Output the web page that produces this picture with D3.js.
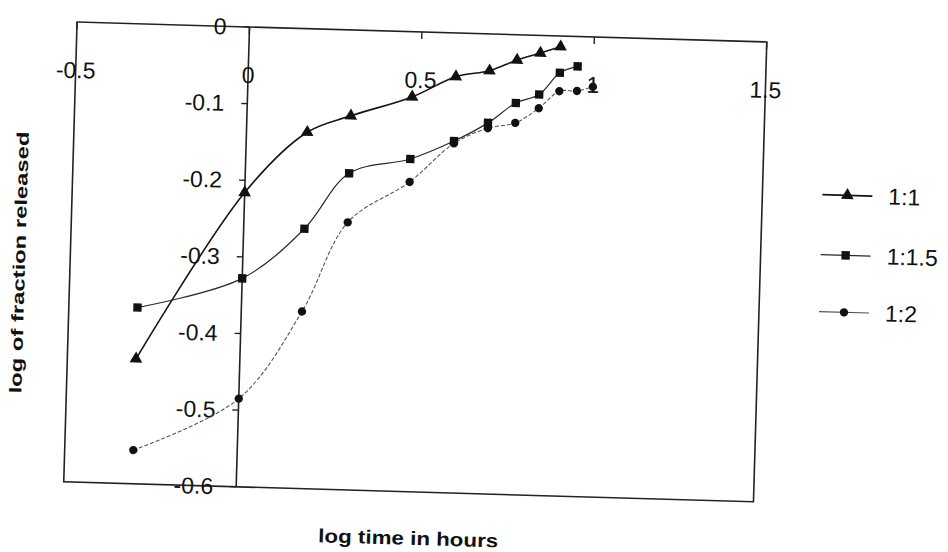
<!DOCTYPE html>
<html><head><meta charset="utf-8">
<script src="https://cdn.jsdelivr.net/npm/d3@7"></script>
<style>body{margin:0;background:#fff} svg{display:block;font-family:"Liberation Sans",Arial,sans-serif}</style>
</head><body><svg id="chart" width="948" height="552"></svg>
<script>
// log time in hours (x values)
const logTime = [-0.301, 0, 0.176, 0.301, 0.477, 0.602, 0.699, 0.778, 0.845, 0.903, 0.954, 1.0];
// log of fraction released, per ratio
const ratio1_1   = [-0.437, -0.216, -0.135, -0.112, -0.085, -0.057, -0.048, -0.033, -0.023, -0.014];
const ratio1_1_5 = [-0.370, -0.328, -0.261, -0.187, -0.166, -0.141, -0.116, -0.089, -0.077, -0.048, -0.039];
const ratio1_2   = [-0.556, -0.485, -0.369, -0.251, -0.196, -0.144, -0.123, -0.115, -0.095, -0.072, -0.071, -0.065];
const seriesNames = ["1:1", "1:1.5", "1:2"];
const xTickValues = [-0.5, 0, 0.5, 1, 1.5];
const xTickLabels = ["-0.5", "0", "0.5", "1", "1.5"];
const yTickValues = [0, -0.1, -0.2, -0.3, -0.4, -0.5, -0.6];
const yTickLabels = ["0", "-0.1", "-0.2", "-0.3", "-0.4", "-0.5", "-0.6"];
const xTitle = "log time in hours";
const yTitle = "log of fraction released";

const seriesValues = [ratio1_1, ratio1_1_5, ratio1_2];
const styles = [
  {shape: d3.symbolTriangle, size: 70, stroke: "#151515", width: 1.6, dash: null},
  {shape: d3.symbolSquare, size: 70, stroke: "#2a2a2a", width: 1.2, dash: null},
  {shape: d3.symbolCircle, size: 55, stroke: "#555", width: 1.1, dash: "4,2"}
];

const svg = d3.select("#chart");
const L = 77, R = 767, T = 27, B = 487;
const x = d3.scaleLinear().domain([-0.5, 1.5]).range([L, R]);
const y = d3.scaleLinear().domain([-0.6, 0]).range([B, T]);

const g = svg.append("g").attr("transform", `rotate(1.66, ${x(0)}, ${y(0)})`);

// plot box
g.append("rect").attr("x", L).attr("y", T).attr("width", R - L).attr("height", B - T)
  .attr("fill", "none").attr("stroke", "#222").attr("stroke-width", 1.6);

// y axis (at x = 0)
g.append("line").attr("x1", x(0)).attr("x2", x(0)).attr("y1", y(0)).attr("y2", y(-0.6))
  .attr("stroke", "#222").attr("stroke-width", 1.6);

// x ticks (down from the top axis) and labels
g.selectAll(".xt").data(xTickValues).join("line").attr("class", "xt")
  .attr("x1", d => x(d)).attr("x2", d => x(d)).attr("y1", y(0)).attr("y2", y(0) + 7)
  .attr("stroke", "#222").attr("stroke-width", 1.4);
g.selectAll(".xl").data(xTickValues).join("text").attr("class", "xl")
  .attr("x", d => x(d)).attr("y", y(0) + 56)
  .attr("text-anchor", "middle").attr("font-size", 23).attr("fill", "#111")
  .text((d, i) => xTickLabels[i]);

// y ticks and labels
g.selectAll(".yt").data(yTickValues).join("line").attr("class", "yt")
  .attr("x1", x(0) - 6).attr("x2", x(0)).attr("y1", d => y(d)).attr("y2", d => y(d))
  .attr("stroke", "#222").attr("stroke-width", 1.4);
g.selectAll(".yl").data(yTickValues).join("text").attr("class", "yl")
  .attr("x", x(0) - 23).attr("y", d => y(d) + 8)
  .attr("text-anchor", "end").attr("font-size", 23).attr("fill", "#111")
  .text((d, i) => yTickLabels[i]);

// series
const line = d3.line().x(d => x(d[0])).y(d => y(d[1])).curve(d3.curveCatmullRom.alpha(0.5));
seriesValues.forEach((vals, si) => {
  const pts = vals.map((v, i) => [logTime[i], v]);
  const st = styles[si];
  g.append("path").datum(pts).attr("d", line).attr("fill", "none")
    .attr("stroke", st.stroke).attr("stroke-width", st.width)
    .attr("stroke-dasharray", st.dash);
  g.selectAll(".m" + si).data(pts).join("path").attr("class", "m" + si)
    .attr("transform", d => `translate(${x(d[0])},${y(d[1])})`)
    .attr("d", d3.symbol().type(st.shape).size(st.size)).attr("fill", "#111");
});

// legend
const legY = [178, 238, 295];
seriesNames.forEach((name, i) => {
  const st = styles[i];
  g.append("line").attr("x1", 827).attr("x2", 877).attr("y1", legY[i]).attr("y2", legY[i])
    .attr("stroke", st.stroke).attr("stroke-width", st.width);
  g.append("path").attr("transform", `translate(852,${legY[i]})`)
    .attr("d", d3.symbol().type(st.shape).size(st.size)).attr("fill", "#111");
  g.append("text").attr("x", 893).attr("y", legY[i] + 8).attr("font-size", 23)
    .attr("fill", "#111").text(name);
});

// axis titles
g.append("text").attr("x", 423).attr("y", 540).attr("text-anchor", "middle")
  .attr("font-size", 19).attr("font-weight", "bold").attr("fill", "#111")
  .attr("textLength", 180).attr("lengthAdjust", "spacingAndGlyphs").text(xTitle);
g.append("text").attr("transform", "translate(32,269) rotate(-90)")
  .attr("text-anchor", "middle").attr("font-size", 17).attr("font-weight", "bold").attr("fill", "#111")
  .attr("textLength", 262).attr("lengthAdjust", "spacingAndGlyphs").text(yTitle);
</script></body></html>
